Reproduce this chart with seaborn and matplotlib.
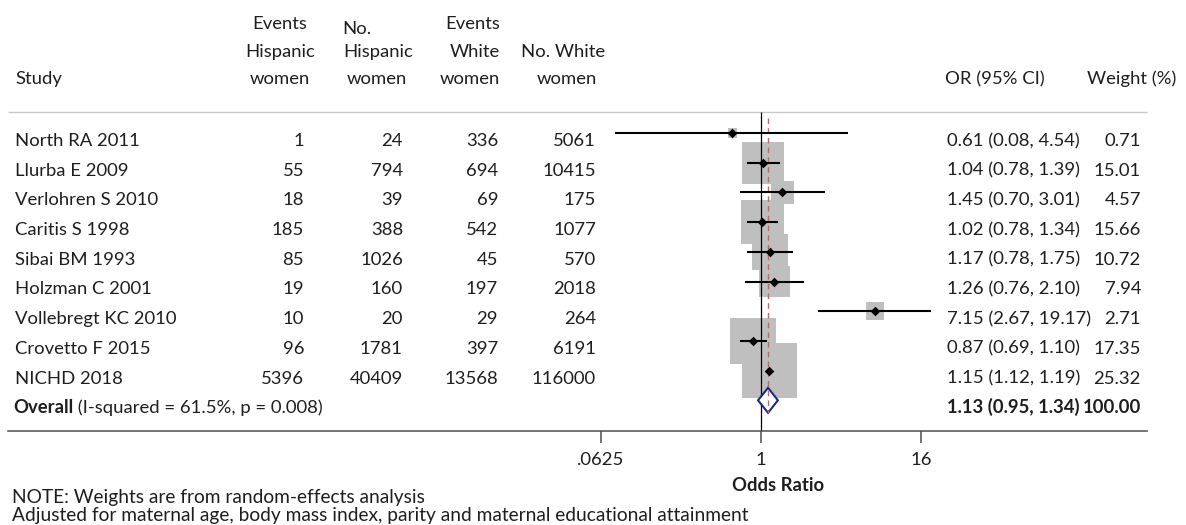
import numpy as np
import pandas as pd
import matplotlib
matplotlib.use("Agg")
import matplotlib.pyplot as plt
import matplotlib.transforms as mtransforms
from matplotlib.ticker import NullLocator
import seaborn as sns

# ---- study-level data -------------------------------------------------------
studies = ["North RA 2011", "Llurba E 2009", "Verlohren S 2010", "Caritis S 1998",
           "Sibai BM 1993", "Holzman C 2001", "Vollebregt KC 2010",
           "Crovetto F 2015", "NICHD 2018"]
events_hispanic = [1, 55, 18, 185, 85, 19, 10, 96, 5396]
n_hispanic = [24, 794, 39, 388, 1026, 160, 20, 1781, 40409]
events_white = [336, 694, 69, 542, 45, 197, 29, 397, 13568]
n_white = [5061, 10415, 175, 1077, 570, 2018, 264, 6191, 116000]
odds_ratio = [0.61, 1.04, 1.45, 1.02, 1.17, 1.26, 7.15, 0.87, 1.15]
ci_low = [0.08, 0.78, 0.70, 0.78, 0.78, 0.76, 2.67, 0.69, 1.12]
ci_high = [4.54, 1.39, 3.01, 1.34, 1.75, 2.10, 19.17, 1.10, 1.19]
weight_pct = [0.71, 15.01, 4.57, 15.66, 10.72, 7.94, 2.71, 17.35, 25.32]

# pooled (random-effects) estimate
overall_or = 1.13
overall_low = 0.95
overall_high = 1.34
overall_weight = 100.00
i_squared = 61.5
p_heterogeneity = 0.008

tick_values = [0.0625, 1, 16]
tick_labels = [".0625", "1", "16"]

df = pd.DataFrame({
    "study": studies,
    "ev_h": events_hispanic, "n_h": n_hispanic,
    "ev_w": events_white, "n_w": n_white,
    "or": odds_ratio, "lo": ci_low, "hi": ci_high, "w": weight_pct,
})
df["row"] = np.arange(len(df))
overall_row = len(df)

# ---- styling / layout -------------------------------------------------------
sns.set_style("white")
plt.rcParams["font.family"] = ["Lato", "DejaVu Sans"]
FS = 13.3
FS_NOTE = 13.8
TXT = "#1e1e1e"
BOX = "#bfbfbf"
NAVY = "#1b2a84"
DASH = "#b56b6b"

W, H = 1186, 525
X_ONE = 761          # horizontal pixel of OR = 1
PX_PER_DOUBLING = 40
ROW0 = 133           # vertical pixel of first study row
ROW_STEP = 29.7
BASE_DROP = 13 / ROW_STEP   # text baseline sits below the marker centre


def or_at(px):
    return 2 ** ((px - X_ONE) / PX_PER_DOUBLING)


def row_at(py):
    return (py - ROW0) / ROW_STEP


fig = plt.figure(figsize=(W / 100, H / 100), dpi=100)
fig.patch.set_facecolor("white")
ax = fig.add_axes([0, 0, 1, 1])
ax.set_facecolor("white")
ax.set_xscale("log", base=2)
ax.set_xlim(or_at(0), or_at(W))
ax.set_ylim(row_at(H), row_at(0))
ax.grid(False)

# weight boxes (area proportional to weight)
max_side_pt = 55 * 0.72
sns.scatterplot(data=df, x="or", y="row", size="w", sizes=(0, max_side_pt ** 2),
                size_norm=(0, max(weight_pct)), marker="s", color=BOX,
                linewidth=0, legend=False, ax=ax, zorder=1)

# line of no effect and pooled-estimate line
ax.vlines(1, row_at(112), row_at(431), color="black", lw=0.9, zorder=2)
ax.vlines(overall_or, row_at(118), row_at(413), color=DASH, lw=1.0,
          linestyle=(0, (4, 3)), zorder=2.6)

# confidence intervals and point estimates
ax.hlines(df["row"], df["lo"], df["hi"], color="black", lw=1.5, zorder=3)
sns.scatterplot(data=df, x="or", y="row", marker="D", s=24, color="black",
                linewidth=0, legend=False, ax=ax, zorder=4)

# pooled diamond
half_h = 12.5 / ROW_STEP
ax.fill([overall_low, overall_or, overall_high, overall_or],
        [overall_row, overall_row - half_h, overall_row, overall_row + half_h],
        facecolor="white", edgecolor=NAVY, lw=1.5, zorder=2.5)

# header rule
ax.hlines(row_at(112), or_at(8), or_at(1147), color="#c8c8c8", lw=1.0, zorder=1)

# odds-ratio axis
for side in ["top", "left", "right"]:
    ax.spines[side].set_visible(False)
ax.spines["bottom"].set_position(("data", row_at(431)))
ax.spines["bottom"].set_bounds(or_at(8), or_at(1147))
ax.spines["bottom"].set_color("#4d4d4d")
ax.spines["bottom"].set_linewidth(1.1)
ax.set_xticks(tick_values, tick_labels)
ax.xaxis.set_minor_locator(NullLocator())
ax.tick_params(axis="x", bottom=True, length=12 * 0.72, width=1.1,
               color="#4d4d4d", pad=6.5, labelsize=FS, labelcolor=TXT,
               direction="out")
ax.set_yticks([])
ax.set_ylabel("")
ax.set_xlabel("Odds Ratio", fontsize=FS, fontweight="bold", color=TXT)
ax.xaxis.set_label_coords(778 / W, 1 - 491 / H)
ax.xaxis.label.set_va("baseline")

# ---- text columns -----------------------------------------------------------
col_tf = mtransforms.blended_transform_factory(fig.transFigure, ax.transData)


def put(px, y, s, ha="left", weight="normal", size=FS):
    return ax.text(px / W, y, s, transform=col_tf, ha=ha, va="baseline",
                   fontsize=size, fontweight=weight, color=TXT)


def put_px(px, py, s, ha="left", weight="normal", size=FS):
    return put(px, row_at(py), s, ha=ha, weight=weight, size=size)


# column headers
put_px(15, 84, "Study")
put_px(280, 29, "Events", "center")
put_px(280, 57, "Hispanic", "center")
put_px(280, 84, "women", "center")
put_px(342, 34, "No.")
put_px(378, 57, "Hispanic", "center")
put_px(377, 84, "women", "center")
put_px(500, 29, "Events", "right")
put_px(500, 57, "White", "right")
put_px(500, 84, "women", "right")
put_px(563, 57, "No. White", "center")
put_px(567, 84, "women", "center")
put_px(945, 84, "OR (95% CI)")
put_px(1176, 84, "Weight (%)", "right")

# study rows
for _, r in df.iterrows():
    y = r["row"] + BASE_DROP
    put(15, y, r["study"])
    put(304, y, f"{r['ev_h']}", "right")
    put(403, y, f"{r['n_h']}", "right")
    put(498, y, f"{r['ev_w']}", "right")
    put(596, y, f"{r['n_w']}", "right")
    put(947, y, f"{r['or']:.2f} ({r['lo']:.2f}, {r['hi']:.2f})")
    put(1141, y, f"{r['w']:.2f}", "right")

# pooled row
y = overall_row + BASE_DROP
t_bold = put(13, y, "Overall", weight="bold")
fig.canvas.draw()
bb = t_bold.get_window_extent(renderer=fig.canvas.get_renderer())
put(bb.x1, y, f" (I-squared = {i_squared:.1f}%, p = {p_heterogeneity:.3f})")
put(947, y, f"{overall_or:.2f} ({overall_low:.2f}, {overall_high:.2f})", weight="bold")
put(1141, y, f"{overall_weight:.2f}", "right", weight="bold")

# footnotes
put_px(12, 503, "NOTE: Weights are from random-effects analysis", size=FS_NOTE)
put_px(12, 521, "Adjusted for maternal age, body mass index, parity and maternal "
                "educational attainment", size=FS_NOTE)

fig.savefig("out.png", dpi=100, facecolor="white")
